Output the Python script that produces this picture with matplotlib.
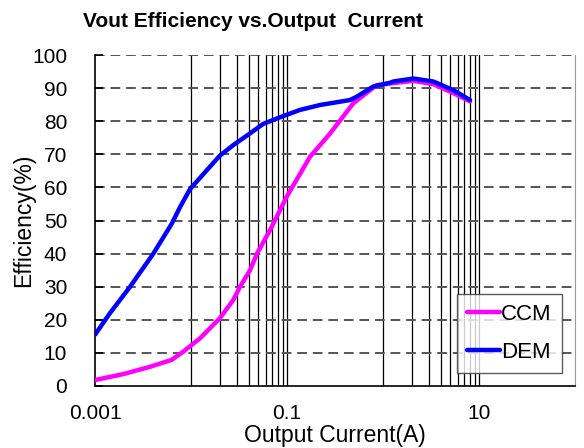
import matplotlib.pyplot as plt

plt.rcParams['font.family'] = ['Liberation Sans', 'DejaVu Sans']

# values
ccm_x = [0.001, 0.00197, 0.00374, 0.00629, 0.00832, 0.0124, 0.02, 0.0276, 0.0324, 0.0412,
         0.0487, 0.0665, 0.0993, 0.174, 0.281, 0.49, 0.733, 0.859, 1.28, 2.07, 3.34, 5.40, 8.06]
ccm_y = [1.8, 3.6, 5.8, 7.9, 10.4, 14.4, 20.5, 26, 30, 35,
         40, 47.1, 57.2, 69.3, 76.3, 85.4, 89.4, 90.9, 91.5, 92.2, 91.2, 88.5, 86.0]

dem_x = [0.001, 0.00143, 0.00232, 0.00405, 0.00629, 0.00767, 0.00977, 0.0158, 0.02,
         0.0276, 0.038, 0.0566, 0.0846, 0.136, 0.221, 0.453, 0.532, 0.793, 1.18, 1.28,
         2.07, 3.34, 5.40, 8.06]
dem_y = [15.5, 22, 30, 40, 49, 54, 59.5, 66.3, 69.6,
         72.8, 75.6, 79.2, 81.2, 83.4, 84.9, 86.4, 87.4, 90.5, 91.6, 92.0,
         92.9, 92.0, 89.4, 86.4]

vgrid = [0.01, 0.02, 0.03, 0.04, 0.05, 0.06, 0.07, 0.08, 0.09, 0.1,
         1, 2, 3, 4, 5, 6, 7, 8, 9, 10]

fig = plt.figure(figsize=(5.84, 4.48), dpi=100)
ax = fig.add_axes([0.1627, 0.1384, 0.8219, 0.7388])

for v in vgrid:
    ax.axvline(v, color='black', lw=0.9, zorder=1)
for h in range(10, 101, 10):
    ax.axhline(h, color='#555555', lw=1.4, ls=(0, (5, 3)), zorder=1)

ax.plot(ccm_x, ccm_y, color='#ff00ff', lw=3.2, label='CCM', zorder=3,
        solid_joinstyle='round', solid_capstyle='round')
ax.plot(dem_x, dem_y, color='#0000ff', lw=3.2, label='DEM', zorder=4,
        solid_joinstyle='round', solid_capstyle='round')

ax.set_xscale('log')
ax.set_xlim(0.001, 100)
ax.set_ylim(0, 100)
ax.set_xticks([0.001, 0.1, 10])
ax.set_xticklabels(['0.001', '0.1', '10'])
ax.minorticks_off()
ax.set_yticks(range(0, 101, 10))
ax.tick_params(axis='x', length=0, pad=13, labelsize=15)
ax.tick_params(axis='y', direction='in', length=6, width=1.2, labelsize=15, pad=20)

ax.spines['top'].set_visible(False)
ax.spines['right'].set_color('#999999')
ax.spines['left'].set_linewidth(1.2)
ax.spines['bottom'].set_linewidth(1.2)

ax.set_xlabel('Output Current(A)', fontsize=16.5, labelpad=1)
ax.set_ylabel('Efficiency(%)', fontsize=16.5, labelpad=-2)
fig.text(0.433, 0.953, 'Vout Efficiency vs.Output  Current', ha='center', va='center',
         fontsize=15, fontweight='bold')

leg = ax.legend(loc='lower right', fontsize=16, frameon=True, fancybox=False,
                edgecolor='#333333', handlelength=1.5, handletextpad=0.05,
                borderaxespad=0.6, labelspacing=0.75, borderpad=0.45)
leg.get_frame().set_linewidth(1.0)

fig.savefig('out.png', dpi=100)
